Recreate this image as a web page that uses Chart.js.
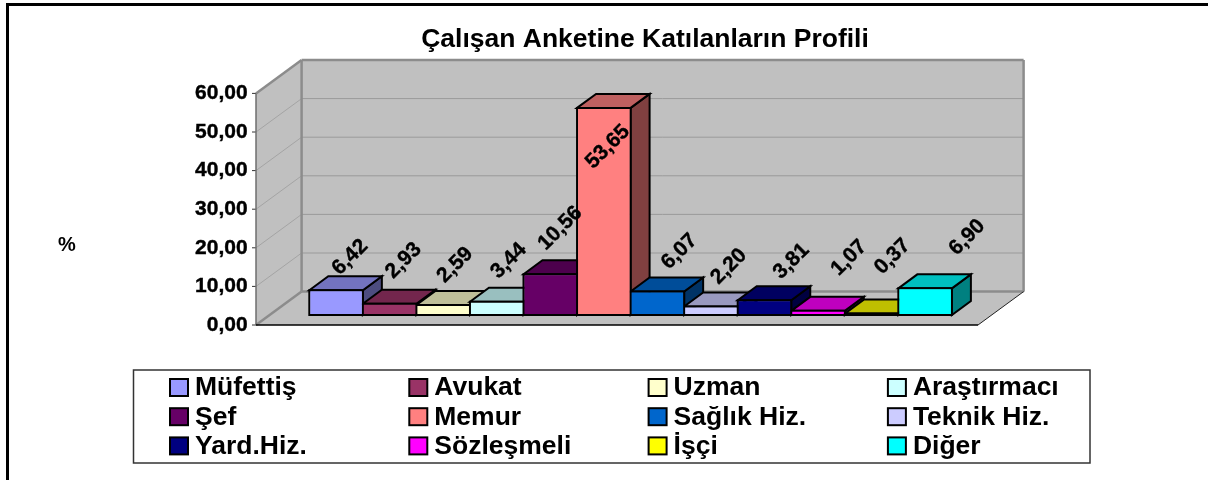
<!DOCTYPE html>
<html lang="tr">
<head>
<meta charset="utf-8">
<title>Çalışan Anketine Katılanların Profili</title>
<style>
html,body{margin:0;padding:0;background:#fff;overflow:hidden}
canvas{display:block}
</style>
<script src="https://cdn.jsdelivr.net/npm/chart.js@4/dist/chart.umd.min.js"></script>
</head>
<body>
<canvas id="c" width="1208" height="480"></canvas>
<script>
const titleText = 'Çalışan Anketine Katılanların Profili';
const categories = ['Profil'];
const seriesNames = ['Müfettiş','Avukat','Uzman','Araştırmacı','Şef','Memur','Sağlık Hiz.','Teknik Hiz.','Yard.Hiz.','Sözleşmeli','İşçi','Diğer'];
const seriesValues = [6.42,2.93,2.59,3.44,10.56,53.65,6.07,2.20,3.81,1.07,0.37,6.90];
const seriesColors = ['#9999FF','#993366','#FFFFCC','#CCFFFF','#660066','#FF8080','#0066CC','#CCCCFF','#000080','#FF00FF','#FFFF00','#00FFFF'];
const axisUnit = '%';
// hand-placed label nudges, as in the original chart
const labelNudgeX = [14,14,12,12,10,4,22,18,27,31,21,42];
const labelNudgeY = [-33,-43,-40,-41,-46,39,-40,-40,-39,-53,-57,-51];

const FONT = '"Liberation Sans", Arial, sans-serif';
const fmt = v => v.toFixed(2).replace('.', ',');
function shade(hex, f){
  const n = parseInt(hex.slice(1),16);
  const c = s => Math.round(((n>>s)&255)*f);
  return `rgb(${c(16)},${c(8)},${c(0)})`;
}
function poly(ctx, pts, fill, stroke, lw){
  ctx.beginPath();
  pts.forEach((p,i)=> i?ctx.lineTo(p[0],p[1]):ctx.moveTo(p[0],p[1]));
  ctx.closePath();
  if(fill){ctx.fillStyle=fill;ctx.fill();}
  if(stroke){ctx.strokeStyle=stroke;ctx.lineWidth=lw;ctx.lineJoin='miter';ctx.stroke();}
}
function line(ctx,x0,y0,x1,y1,c,lw){
  ctx.beginPath();ctx.moveTo(x0,y0);ctx.lineTo(x1,y1);ctx.strokeStyle=c;ctx.lineWidth=lw;ctx.stroke();
}

const FRONT = {dx:-13.6, dy:10};
const BACK  = {dx:32, dy:-23.4};
const BAR_DEPTH = {dx:19, dy:-14};

const scene3d = {
  id:'scene3d',
  afterLayout(chart){
    const t = chart.titleBlock;
    if(t){ t.left = 345; t.right = 945; }
  },
  beforeDraw(chart){
    const ctx = chart.ctx;
    ctx.save();
    ctx.fillStyle='#fff';ctx.fillRect(0,0,chart.width,chart.height);
    line(ctx,7.5,4.5,7.5,480,'#000',3);
    line(ctx,6,4.5,1208,4.5,'#000',3);
    ctx.restore();
  },
  beforeDatasetsDraw(chart){
    const ctx = chart.ctx, ys = chart.scales.y, a = chart.chartArea;
    const yTop = ys.getPixelForValue(ys.max), yZero = ys.getPixelForValue(0);
    const fl = a.left+FRONT.dx, fr = a.right+FRONT.dx, bl = a.left+BACK.dx, br = a.right+BACK.dx;
    ctx.save();
    const wallFill='#C0C0C0', edge='#8c8c8c';
    // walls and floor
    poly(ctx,[[bl,yTop+BACK.dy],[br,yTop+BACK.dy],[br,yZero+BACK.dy],[bl,yZero+BACK.dy]],wallFill);
    poly(ctx,[[fl,yTop+FRONT.dy],[bl,yTop+BACK.dy],[bl,yZero+BACK.dy],[fl,yZero+FRONT.dy]],wallFill);
    poly(ctx,[[fl,yZero+FRONT.dy],[bl,yZero+BACK.dy],[br,yZero+BACK.dy],[fr,yZero+FRONT.dy]],wallFill);
    // grid lines
    ys.ticks.forEach(t=>{
      const y = ys.getPixelForValue(t.value);
      if(t.value>0 && t.value<ys.max){
        line(ctx,bl,y+BACK.dy,br,y+BACK.dy,'#9a9a9a',1);
        line(ctx,fl,y+FRONT.dy,bl,y+BACK.dy,'#a4a4a4',1);
      }
      line(ctx,fl-4,y+FRONT.dy,fl,y+FRONT.dy,'#333',1);
    });
    // wall edges
    line(ctx,fl,yTop+FRONT.dy,bl,yTop+BACK.dy,edge,2.5);
    line(ctx,bl,yTop+BACK.dy,br,yTop+BACK.dy,edge,2.5);
    line(ctx,br,yTop+BACK.dy,br,yZero+BACK.dy,edge,2.5);
    line(ctx,bl,yTop+BACK.dy,bl,yZero+BACK.dy,edge,2.5);
    line(ctx,bl,yZero+BACK.dy,br,yZero+BACK.dy,edge,2.5);
    line(ctx,fl,yZero+FRONT.dy,bl,yZero+BACK.dy,edge,2.5);
    line(ctx,fl,yTop+FRONT.dy,fl,yZero+FRONT.dy,'#6e6e6e',1.5);
    // floor front edges
    line(ctx,fl,yZero+FRONT.dy,fr,yZero+FRONT.dy,'#000',1.5);
    line(ctx,fr,yZero+FRONT.dy,br,yZero+BACK.dy,'#222',1);
    // bar depth faces, left to right, with the outer half of each front outline
    const d = BAR_DEPTH;
    chart.data.datasets.forEach((ds,i)=>{
      const el = chart.getDatasetMeta(i).data[0];
      const {x,y,base,width} = el.getProps(['x','y','base','width'],true);
      const x0=x-width/2, x1=x+width/2;
      poly(ctx,[[x1,y],[x1+d.dx,y+d.dy],[x1+d.dx,base+d.dy],[x1,base]],shade(seriesColors[i],.5),'#000',2);
      poly(ctx,[[x0,y],[x0+d.dx,y+d.dy],[x1+d.dx,y+d.dy],[x1,y]],shade(seriesColors[i],.75),'#000',2);
    });
    chart.data.datasets.forEach((ds,i)=>{
      const {x,y,base,width} = chart.getDatasetMeta(i).data[0].getProps(['x','y','base','width'],true);
      poly(ctx,[[x-width/2,y],[x+width/2,y],[x+width/2,base],[x-width/2,base]],null,'#000',2);
    });
    ctx.restore();
  },
  afterDatasetsDraw(chart){
    const ctx = chart.ctx;
    ctx.save();
    ctx.fillStyle='#000';ctx.strokeStyle='#000';ctx.lineWidth=0.4;
    ctx.font=`bold 21px ${FONT}`;
    ctx.textAlign='center';ctx.textBaseline='middle';
    chart.data.datasets.forEach((ds,i)=>{
      const {x,y} = chart.getDatasetMeta(i).data[0].getProps(['x','y'],true);
      ctx.save();
      ctx.translate(x+labelNudgeX[i],y+labelNudgeY[i]);
      ctx.rotate(-Math.PI/4);
      ctx.fillText(fmt(seriesValues[i]),0,0);
      ctx.strokeText(fmt(seriesValues[i]),0,0);
      ctx.restore();
    });
    ctx.restore();
  },
  afterDraw(chart){
    const ctx = chart.ctx;
    ctx.save();
    // unit label
    ctx.fillStyle='#000';ctx.font=`bold 20px ${FONT}`;ctx.textAlign='center';ctx.textBaseline='middle';
    ctx.fillText(axisUnit,67,245);
    // legend
    ctx.fillStyle='#fff';ctx.strokeStyle='#333';ctx.lineWidth=1.5;
    ctx.fillRect(133.5,370,956.5,93);ctx.strokeRect(133.5,370,956.5,93);
    ctx.font=`bold 26.5px ${FONT}`;ctx.textAlign='left';ctx.textBaseline='middle';
    seriesNames.forEach((name,i)=>{
      const col=i%4,row=Math.floor(i/4);
      const sx=170+col*239.3, sy=379+row*29.2;
      ctx.fillStyle=seriesColors[i];ctx.strokeStyle='#000';ctx.lineWidth=2;
      ctx.fillRect(sx,sy,18,17);ctx.strokeRect(sx,sy,18,17);
      ctx.fillStyle='#000';
      ctx.fillText(name,sx+25,sy+9);
    });
    ctx.restore();
  }
};

new Chart(document.getElementById('c').getContext('2d'),{
  type:'bar',
  data:{
    labels:categories,
    datasets:seriesNames.map((name,i)=>({
      label:name,
      data:[seriesValues[i]],
      backgroundColor:seriesColors[i],
      borderColor:'#000',
      borderWidth:1,
      borderSkipped:false,
      inflateAmount:0,
      clip:false
    }))
  },
  options:{
    responsive:false,
    animation:false,
    events:[],
    categoryPercentage:0.89,
    barPercentage:1,
    layout:{padding:{left:150,right:216.4,top:0,bottom:165}},
    plugins:{
      legend:{display:false},
      tooltip:{enabled:false},
      title:{
        display:true,
        text:titleText,
        color:'#000',
        font:{family:FONT,size:26.5,weight:'bold',lineHeight:1},
        padding:{top:26,bottom:30.9}
      }
    },
    scales:{
      x:{display:false},
      y:{
        min:0,max:60,
        grid:{display:false,drawTicks:false},
        border:{display:false},
        afterFit(s){s.width=119.6;},
        ticks:{
          stepSize:10,
          padding:22,
          labelOffset:10,
          color:'#000',
          textStrokeColor:'#000',
          textStrokeWidth:0.4,
          font:{family:FONT,size:21,weight:'bold'},
          callback:v=>fmt(v)
        }
      }
    }
  },
  plugins:[scene3d]
});
</script>
</body>
</html>
